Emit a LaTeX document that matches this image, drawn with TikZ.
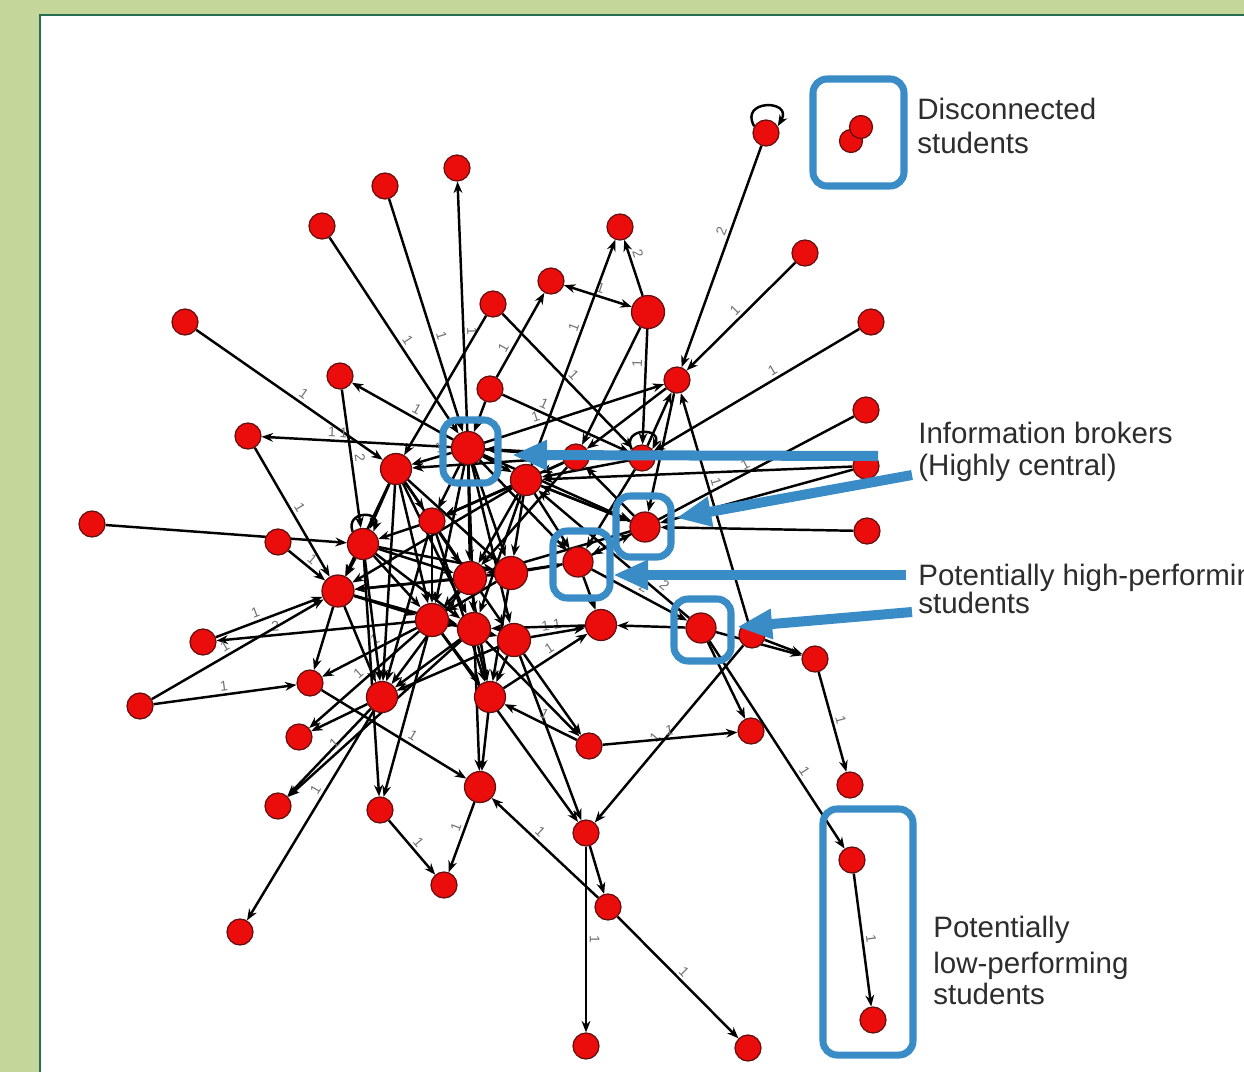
\documentclass[tikz,border=0pt]{standalone}
\usepackage{fontspec}
\setmainfont{Liberation Sans}
\usetikzlibrary{arrows.meta}
\definecolor{bggreen}{RGB}{197,214,154}
\definecolor{framegreen}{RGB}{38,110,82}
\definecolor{nodered}{RGB}{235,12,12}
\definecolor{nodeedge}{RGB}{100,15,15}
\definecolor{annot}{RGB}{57,140,198}
\definecolor{txt}{RGB}{45,45,45}
\pgfdeclarelayer{panel}
\pgfdeclarelayer{links}
\pgfdeclarelayer{notes}
\pgfsetlayers{panel,links,main,notes}

\begin{document}
\begin{tikzpicture}[x=0.02cm,y=-0.02cm,
  stu/.style={circle,fill=nodered,draw=nodeedge,line width=0.7pt,minimum size=0.52cm,inner sep=0pt},
  hub/.style={stu,minimum size=0.66cm},
  link/.style={line width=1.4pt,-{Stealth[length=6.5pt,width=5pt]}},
  twoway/.style={line width=1.4pt,{Stealth[length=6.5pt,width=5pt]}-{Stealth[length=6.5pt,width=5pt]}},
  lbl/.style={font=\fontsize{8}{8}\selectfont,text=black!55,sloped,inner sep=1.5pt,above},
  hilite/.style={draw=annot,line width=4pt,rounded corners=0.28cm},
  pointer/.style={draw=annot,line width=5.7pt,-{Triangle[length=20pt,width=16pt]}},
  caption/.style={anchor=base west,inner sep=0pt,text=txt,font=\fontsize{16.8}{19}\selectfont}]

\useasboundingbox (0,0) rectangle (1244,1072);

% page background and framed panel
\begin{pgfonlayer}{panel}
  \fill[bggreen] (0,0) rectangle (1244,1072);
  \fill[white] (40,15) rectangle (1244,1072);
  \draw[framegreen,line width=1.2pt] (40,1072) -- (40,15) -- (1244,15);
\end{pgfonlayer}

% ---------- students ----------
\node[stu] (o1) at (766,133) {};
\node[stu,minimum size=0.46cm] (dc1) at (851,141) {};
\node[stu,minimum size=0.46cm] (dc2) at (861,127) {};
\node[stu] (o2) at (457,168) {};
\node[stu] (o3) at (385,186) {};
\node[stu] (o4) at (322,226) {};
\node[stu] (o5) at (620,227) {};
\node[stu] (o6) at (805,253) {};
\node[stu] (o7) at (551,281) {};
\node[hub] (o8) at (648,312) {};
\node[stu] (o9) at (493,304) {};
\node[stu] (o10) at (185,322) {};
\node[stu] (o11) at (871,322) {};
\node[stu] (o12) at (340,376) {};
\node[stu] (o13) at (490,389) {};
\node[stu] (o14) at (677,380) {};
\node[stu] (o15) at (866,410) {};
\node[stu] (o16) at (248,436) {};
\node[hub] (hA) at (468,448) {};
\node[stu] (o17) at (576,457) {};
\node[stu] (o18) at (642,458) {};
\node[stu] (o19) at (866,466) {};
\node[hub,minimum size=0.62cm] (c20) at (396,469) {};
\node[hub,minimum size=0.62cm] (c21) at (526,480) {};
\node[stu] (c22) at (432,521) {};
\node[stu] (o23) at (867,531) {};
\node[hub,minimum size=0.6cm] (hB) at (645,527) {};
\node[hub,minimum size=0.6cm] (hC) at (578,562) {};
\node[hub,minimum size=0.6cm] (hD) at (701,628) {};
\node[stu] (o24) at (92,524) {};
\node[stu] (o25) at (278,542) {};
\node[hub,minimum size=0.62cm] (c26) at (363,544) {};
\node[hub] (c27) at (470,578) {};
\node[hub] (c28) at (511,573) {};
\node[hub,minimum size=0.64cm] (c29) at (338,591) {};
\node[hub] (c30) at (432,620) {};
\node[hub] (c31) at (474,629) {};
\node[hub] (c32) at (514,640) {};
\node[hub,minimum size=0.62cm] (c33) at (601,625) {};
\node[stu] (o34) at (752,635) {};
\node[stu] (o35) at (815,659) {};
\node[stu] (o36) at (203,642) {};
\node[stu] (o37) at (140,706) {};
\node[stu] (o38) at (310,683) {};
\node[hub,minimum size=0.62cm] (c39) at (382,697) {};
\node[hub,minimum size=0.62cm] (c40) at (490,697) {};
\node[stu] (o41) at (299,737) {};
\node[stu] (o42) at (589,746) {};
\node[stu] (o43) at (751,731) {};
\node[hub,minimum size=0.62cm] (c44) at (480,787) {};
\node[stu] (o45) at (850,785) {};
\node[stu] (o46) at (278,806) {};
\node[stu] (o47) at (380,810) {};
\node[stu] (o48) at (586,833) {};
\node[stu] (o49) at (444,885) {};
\node[stu] (o50) at (852,860) {};
\node[stu] (o51) at (608,907) {};
\node[stu] (o52) at (240,932) {};
\node[stu] (o53) at (873,1020) {};
\node[stu] (o54) at (586,1046) {};
\node[stu] (o55) at (748,1048) {};

% ---------- ties between students ----------
\begin{pgfonlayer}{links}
  % self ties
  \draw[link] (o1.150) to[out=120,in=60,looseness=3.4] (o1.30);
  \draw[link] (c26.130) to[out=110,in=70,looseness=2.8] (c26.50);
  \draw[link] (o18.140) to[out=115,in=65,looseness=3.0] (o18.40);

  % periphery, upper half
  \draw[link] (hA) -- node[lbl,pos=0.4]{1} (o2);
  \draw[link] (o3) -- node[lbl,pos=0.6]{1} (hA);
  \draw[link] (o4) -- node[lbl,pos=0.55]{1} (hA);
  \draw[link] (o10) -- node[lbl,pos=0.55]{1} (c20);
  \draw[link] (hA) -- node[lbl,pos=0.4]{1} (o12);
  \draw[link] (o12) -- node[lbl,pos=0.5]{2} (c26);
  \draw[link] (hA) -- node[lbl,pos=0.6]{1 1} (o16);
  \draw[link] (o16) -- node[lbl,pos=0.5]{1} (c29);
  \draw[link] (o9) -- (c20);
  \draw[link] (o9) -- node[lbl,pos=0.5]{1} (o18);
  \draw[link] (o13) -- (hA);
  \draw[link] (o13) -- node[lbl,pos=0.3]{1} (o7);
  \draw[twoway] (o7) -- node[lbl]{1} (o8);
  \draw[link] (o8) -- node[lbl,pos=0.7]{2} (o5);
  \draw[link] (c21) -- node[lbl,pos=0.6]{1} (o5);
  \draw[link] (o8) -- (o17);
  \draw[link] (o8) -- node[lbl,pos=0.3]{1} (o18);
  \draw[link] (o1) -- node[lbl,pos=0.4]{2} (o14);
  \draw[link] (o6) -- node[lbl,pos=0.5]{1} (o14);
  \draw[link] (hA) -- node[lbl,pos=0.3]{1} (o14);
  \draw[link] (o13) -- node[lbl,pos=0.3]{1} (o18);
  \draw[link] (o18) -- (o14);
  \draw[link] (o14) -- (o17);
  \draw[link] (o34) -- node[lbl,pos=0.6]{1} (o14);
  \draw[link] (o11) -- node[lbl,pos=0.4]{1} (o18);
  \draw[link] (o15) -- node[lbl,pos=0.4]{1} (hC);
  \draw[link] (o19) -- (hB);
  \draw[link] (o19) -- (c21);
  \draw[link] (o23) -- (hB);
  \draw[link] (hA) -- node[lbl,pos=0.25]{1} (c20);

  % periphery, left and lower half
  \draw[link] (o24) -- (c26);
  \draw[link] (o25) -- node[lbl,pos=0.5]{1} (c29);
  \draw[link] (o36) -- node[lbl,pos=0.4]{1} (c29);
  \draw[link] (c30) -- node[lbl,pos=0.7]{2} (o36);
  \draw[link] (o37) -- node[lbl,pos=0.45]{1} (c29);
  \draw[link] (o37) -- node[lbl,pos=0.5]{1} (o38);
  \draw[link] (c30) -- node[lbl,pos=0.4]{1} (o38);
  \draw[link] (c29) -- (o38);
  \draw[link] (c30) -- node[lbl,pos=0.5]{1} (o41);
  \draw[link] (c39) -- (o41);
  \draw[link] (c39) -- (o46);
  \draw[link] (c31) -- node[lbl,pos=0.7]{1} (o46);
  \draw[link] (c39) -- node[lbl,pos=0.4]{1} (o52);
  \draw[link] (c30) -- (o47);
  \draw[link] (c26) -- node[lbl,pos=0.6]{1} (o47);
  \draw[link] (o47) -- node[lbl,pos=0.5]{1} (o49);
  \draw[link] (c44) -- node[lbl,pos=0.4]{1} (o49);
  \draw[link] (o38) -- node[lbl,pos=0.6]{1} (c44);
  \draw[link] (c30) -- (o48);
  \draw[link] (c32) -- (o48);
  \draw[link] (o48) -- (o51);
  \draw[link] (o48) -- node[lbl,pos=0.5]{1} (o54);
  \draw[link] (o51) -- node[lbl,pos=0.6]{1} (c44);
  \draw[link] (o51) -- node[lbl,pos=0.5]{1} (o55);
  \draw[link] (c32) -- node[lbl,pos=0.4]{1 1} (c33);
  \draw[link] (c40) -- node[lbl,pos=0.6]{1} (c33);
  \draw[link] (hD) -- (c33);
  \draw[link] (hC) -- node[lbl,pos=0.5]{2} (hD);
  \draw[link] (hD) -- (o43);
  \draw[link] (hD) -- node[lbl,pos=0.65]{1} (o50);
  \draw[link] (hD) -- (o35);
  \draw[link] (o34) -- (o35);
  \draw[link] (o35) -- node[lbl,pos=0.5]{1} (o45);
  \draw[link] (o34) -- node[lbl,pos=0.55]{1} (o48);
  \draw[link] (o42) -- node[lbl,pos=0.5]{1} (o43);
  \draw[link] (o42) -- node[lbl,pos=0.5]{1} (c40);
  \draw[link] (c32) -- (o42);
  \draw[link] (c31) -- (o42);
  \draw[link] (c40) -- (c44);
  \draw[link] (c31) -- (c44);
  \draw[link] (o50) -- node[lbl,pos=0.5]{1} (o53);

  % dense core
  \draw[link] (hA) -- (c21);
  \draw[link] (hA) -- (c22);
  \draw[link] (hA) -- (c27);
  \draw[link] (hA) -- (c28);
  \draw[link] (hA) -- (c30);
  \draw[link] (hA) -- (c31);
  \draw[link] (hA) -- (c32);
  \draw[link] (hA) -- (hC);
  \draw[link] (hA) -- (hB);
  \draw[link] (hA) -- (o17);
  \draw[link] (c20) -- (c22);
  \draw[link] (c20) -- (c26);
  \draw[link] (c20) -- (c29);
  \draw[link] (c20) -- (c27);
  \draw[link] (c20) -- (c31);
  \draw[link] (c20) -- (c39);
  \draw[link] (c20) -- (c28);
  \draw[link] (c21) -- (c22);
  \draw[link] (c21) -- (c27);
  \draw[link] (c21) -- (c31);
  \draw[link] (c21) -- (hC);
  \draw[link] (c21) -- (hB);
  \draw[link] (c21) -- (c29);
  \draw[link] (c22) -- (c26);
  \draw[link] (c22) -- (c30);
  \draw[link] (c22) -- (c39);
  \draw[link] (c22) -- (c32);
  \draw[link] (c22) -- (c40);
  \draw[link] (c26) -- (c27);
  \draw[link] (c26) -- (c28);
  \draw[link] (c26) -- (c30);
  \draw[link] (c26) -- (c31);
  \draw[link] (c26) -- (c39);
  \draw[link] (c26) -- (c29);
  \draw[link] (c27) -- (c29);
  \draw[link] (c27) -- (c30);
  \draw[link] (c27) -- (c40);
  \draw[link] (c27) -- (c39);
  \draw[link] (c28) -- (c29);
  \draw[link] (c28) -- (c30);
  \draw[link] (c28) -- (c40);
  \draw[link] (c28) -- (hC);
  \draw[link] (c29) -- (c30);
  \draw[link] (c29) -- (c39);
  \draw[link] (c29) -- (c31);
  \draw[link] (c30) -- (c31);
  \draw[link] (c30) -- (c40);
  \draw[link] (c30) -- (c32);
  \draw[link] (c31) -- (c40);
  \draw[link] (c31) -- (c39);
  \draw[link] (c32) -- (c40);
  \draw[link] (c32) -- (c39);
  \draw[link] (hC) -- (c33);
  \draw[link] (hC) -- (hB);
  \draw[link] (hB) -- (c21);
  \draw[link] (hB) -- (o17);
  \draw[link] (o17) -- (c21);
  \draw[link] (o18) -- (c21);
  \draw[link] (o18) -- (hA);
  \draw[link] (o17) -- (c22);
  \draw[link] (o17) -- (c20);
  \draw[link] (c33) -- (c31);
  \draw[link] (hB) -- (c27);
  \draw[link] (hC) -- (c27);
  \draw[link] (hD) -- node[lbl,pos=0.2]{2} (c21);
  \draw[link] (o18) -- (hC);
  \draw[link] (o14) -- (hB);
  \draw[link] (c20) -- (c30);
  \draw[link] (c21) -- (c28);
  \draw[link] (o17) -- (c27);
\end{pgfonlayer}

% ---------- annotations ----------
\begin{pgfonlayer}{notes}
  \draw[hilite] (813,79) rectangle (904,186);
  \draw[hilite] (443,420) rectangle (498,483);
  \draw[hilite] (616,496) rectangle (671,557);
  \draw[hilite] (553,531) rectangle (610,598);
  \draw[hilite] (674,599) rectangle (731,661);
  \draw[hilite] (823,809) rectangle (913,1055);

  \coordinate (tA) at (878,456);  \coordinate (pA) at (512,455);
  \coordinate (tB) at (912,475);  \coordinate (pB) at (676,518);
  \coordinate (tC) at (906,575);  \coordinate (pC) at (613,575);
  \coordinate (tD) at (912,612);  \coordinate (pD) at (737,627);
  \draw[pointer] (tA) -- (pA);
  \draw[pointer] (tB) -- (pB);
  \draw[pointer] (tC) -- (pC);
  \draw[pointer] (tD) -- (pD);

  \node[caption] (capDis1) at (917,119) {Disconnected};
  \node[caption] (capDis2) at (917,153) {students};
  \node[caption] (capInf1) at (918,443) {Information brokers};
  \node[caption] (capInf2) at (918,475) {(Highly central)};
  \begin{scope}
    \clip (0,0) rectangle (1244,1072);
    \node[caption] (capHi1) at (918,585) {Potentially high-performing};
  \end{scope}
  \node[caption] (capHi2) at (918,613) {students};
  \node[caption] (capLo1) at (933,937) {Potentially};
  \node[caption] (capLo2) at (933,973) {low-performing};
  \node[caption] (capLo3) at (933,1004) {students};
\end{pgfonlayer}
\end{tikzpicture}
\end{document}
